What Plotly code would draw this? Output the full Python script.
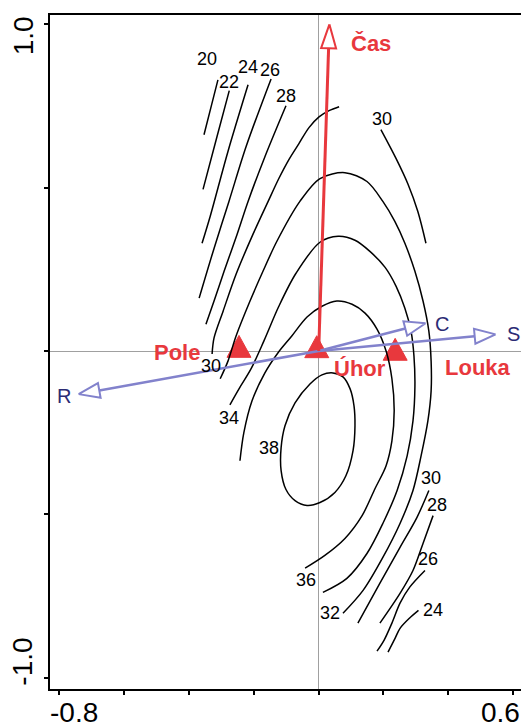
import math
import plotly.graph_objects as go

# ---------------- data ----------------
x_tick_vals = [-0.8, -0.6, -0.4, -0.2, 0.0, 0.2, 0.4, 0.6]
y_tick_vals = [-1.0, -0.5, 0.0, 0.5, 1.0]
x_tick_labels = ["-0.8", "", "", "", "", "", "", "0.6"]
y_tick_labels = ["-1.0", "", "", "", "1.0"]

# contour polylines (axis-1, axis-2 units)
c20_x = [-0.311, -0.332, -0.354]
c20_y = [0.830, 0.748, 0.662]
c22_x = [-0.276, -0.314, -0.357]
c22_y = [0.797, 0.656, 0.495]
c24_x = [-0.218, -0.280, -0.335, -0.360]
c24_y = [0.815, 0.611, 0.412, 0.330]
c26_x = [-0.147, -0.224, -0.277, -0.323, -0.369]
c26_y = [0.833, 0.626, 0.458, 0.314, 0.162]
c28_x = [-0.101, -0.166, -0.218, -0.252, -0.292, -0.323, -0.348]
c28_y = [0.751, 0.595, 0.458, 0.357, 0.244, 0.153, 0.082]
c30a_x = [0.063, 0.032, 0.001, -0.030, -0.061, -0.092, -0.123, -0.156, -0.203, -0.255, -0.295, -0.323, -0.329]
c30a_y = [0.748, 0.736, 0.717, 0.684, 0.635, 0.586, 0.528, 0.458, 0.357, 0.235, 0.122, 0.040, -0.009]
c30b_x = [0.192, 0.239, 0.276, 0.306, 0.331]
c30b_y = [0.678, 0.589, 0.510, 0.427, 0.330]
c30c_x = [0.340, 0.303, 0.251, 0.189, 0.121]
c30c_y = [-0.427, -0.510, -0.601, -0.711, -0.833]
c32_x = [-0.304, -0.280, -0.255, -0.212, -0.172, -0.129, -0.058, 0.004, 0.081, 0.149, 0.198, 0.235, 0.266,
         0.297, 0.322, 0.340, 0.347, 0.347, 0.337, 0.316, 0.291, 0.251, 0.198, 0.137, 0.075]
c32_y = [-0.085, -0.031, 0.046, 0.153, 0.244, 0.336, 0.458, 0.528, 0.546, 0.519, 0.458, 0.397, 0.330,
         0.244, 0.153, 0.061, -0.031, -0.122, -0.214, -0.321, -0.427, -0.528, -0.632, -0.733, -0.803]
c34_x = [-0.274, -0.246, -0.209, -0.169, -0.123, -0.070, 0.004, 0.060, 0.112, 0.158, 0.205, 0.239, 0.266,
         0.285, 0.294, 0.297, 0.291, 0.273, 0.242, 0.198, 0.149, 0.087, 0.013]
c34_y = [-0.165, -0.116, -0.055, 0.031, 0.137, 0.238, 0.333, 0.351, 0.339, 0.305, 0.256, 0.198, 0.131,
         0.061, -0.015, -0.107, -0.214, -0.321, -0.427, -0.528, -0.620, -0.696, -0.739]
c36_x = [-0.243, -0.231, -0.206, -0.166, -0.126, -0.083, -0.036, 0.010, 0.056, 0.103, 0.143, 0.180, 0.208,
         0.226, 0.233, 0.226, 0.208, 0.174, 0.134, 0.081, 0.019, -0.042]
c36_y = [-0.336, -0.250, -0.153, -0.067, -0.006, 0.046, 0.104, 0.137, 0.153, 0.143, 0.116, 0.067, 0.000,
         -0.085, -0.183, -0.275, -0.351, -0.421, -0.504, -0.574, -0.626, -0.665]
c38_x = [0.044, 0.075, 0.097, 0.109, 0.112, 0.106, 0.084, 0.050, 0.004, -0.036, -0.073, -0.101, -0.116,
         -0.116, -0.104, -0.073, -0.027, 0.010, 0.044]
c38_y = [-0.067, -0.079, -0.116, -0.168, -0.229, -0.305, -0.382, -0.433, -0.464, -0.473, -0.458, -0.424,
         -0.366, -0.296, -0.229, -0.159, -0.101, -0.073, -0.067]
c28b_x = [0.353, 0.322, 0.291, 0.251, 0.189]
c28b_y = [-0.504, -0.589, -0.672, -0.742, -0.833]
c26b_x = [0.328, 0.281, 0.251, 0.226, 0.202, 0.180]
c26b_y = [-0.672, -0.723, -0.772, -0.833, -0.885, -0.919]
c24b_x = [0.308, 0.280, 0.251, 0.236, 0.214]
c24b_y = [-0.794, -0.818, -0.849, -0.879, -0.922]

contour_segments = [
    (c20_x, c20_y), (c22_x, c22_y), (c24_x, c24_y), (c26_x, c26_y), (c28_x, c28_y),
    (c30a_x, c30a_y), (c30b_x, c30b_y), (c30c_x, c30c_y), (c32_x, c32_y), (c34_x, c34_y),
    (c36_x, c36_y), (c38_x, c38_y), (c28b_x, c28b_y), (c26b_x, c26b_y), (c24b_x, c24b_y),
]

# contour labels
label_levels = ["20", "22", "24", "26", "28", "30", "30", "34", "38", "36", "32", "30", "28", "26", "24"]
label_x = [-0.344, -0.277, -0.218, -0.150, -0.101, 0.195, -0.332, -0.277, -0.153, -0.038, 0.034, 0.347, 0.364, 0.336, 0.352]
label_y = [0.893, 0.824, 0.870, 0.861, 0.781, 0.710, -0.046, -0.205, -0.296, -0.702, -0.803, -0.388, -0.470, -0.638, -0.794]

# sites (nominal variable centroids)
site_names = ["Pole", "Úhor", "Louka"]
site_x = [-0.246, -0.006, 0.236]
site_y = [0.003, 0.002, -0.006]
site_label_x = [-0.437, 0.127, 0.491]
site_label_y = [-0.006, -0.055, -0.049]

# supplementary variable (red)
supp_names = ["Čas"]
supp_x = [0.033]
supp_y = [1.000]
supp_label_x = [0.160]
supp_label_y = [0.940]

# explanatory variables (blue arrows)
env_names = ["C", "S", "R"]
env_x = [0.330, 0.546, -0.741]
env_y = [0.085, 0.051, -0.132]
env_label_x = [0.380, 0.600, -0.785]
env_label_y = [0.083, 0.052, -0.137]

# ---------------- layout geometry ----------------
# the page body keeps the browser's default 8px margin, so the figure is sized
# to sit inside the 529x727 window with the plot frame where the original has it
PAGE_OFF = 8
W, H = 529 - PAGE_OFF, 727 - PAGE_OFF
ML, MR, MT, MB = 50 - PAGE_OFF, 8, 13 - PAGE_OFF, 38
X_RANGE = [-0.8293, 0.6244]
Y_RANGE = [-1.0348, 1.0287]
SX = (W - ML - MR) / (X_RANGE[1] - X_RANGE[0])
SY = (H - MT - MB) / (Y_RANGE[1] - Y_RANGE[0])

RED = "#e8383d"
BLUE = "#8282cc"
NAVY = "#2b2b74"
FONT = "Liberation Sans, Arial, sans-serif"

fig = go.Figure()


def arrow_head(x0, y0, x1, y1, length, half_w):
    dx, dy = (x1 - x0) * SX, (y1 - y0) * SY
    n = math.hypot(dx, dy)
    ux, uy = dx / n, dy / n
    bx, by = x1 - length * ux / SX, y1 - length * uy / SY
    px, py = -uy, ux
    cx1, cy1 = bx + half_w * px / SX, by + half_w * py / SY
    cx2, cy2 = bx - half_w * px / SX, by - half_w * py / SY
    return (bx, by), [x1, cx1, cx2, x1], [y1, cy1, cy2, y1]


# site triangles
TRI_W, TRI_H = 24, 22
for sx_, sy_ in zip(site_x, site_y):
    hw = TRI_W / 2 / SX
    top = sy_ + (2 * TRI_H / 3) / SY
    bot = sy_ - (TRI_H / 3) / SY
    fig.add_trace(go.Scatter(x=[sx_, sx_ + hw, sx_ - hw, sx_], y=[top, bot, bot, top],
                             mode="lines", fill="toself", fillcolor=RED,
                             line=dict(color=RED, width=1), hoverinfo="skip", showlegend=False))

# contours
for cx, cy in contour_segments:
    fig.add_trace(go.Scatter(x=cx, y=cy, mode="lines",
                             line=dict(color="black", width=1.5, shape="spline", smoothing=0.9),
                             hoverinfo="skip", showlegend=False))

# blue arrows
for ex, ey in zip(env_x, env_y):
    (bx, by), hx, hy = arrow_head(0, 0, ex, ey, 21, 7.5)
    fig.add_trace(go.Scatter(x=[0, bx], y=[0, by], mode="lines",
                             line=dict(color=BLUE, width=2.5), hoverinfo="skip", showlegend=False))
    fig.add_trace(go.Scatter(x=hx, y=hy, mode="lines", fill="toself", fillcolor="white",
                             line=dict(color=BLUE, width=2), hoverinfo="skip", showlegend=False))

# red arrow
for ex, ey in zip(supp_x, supp_y):
    (bx, by), hx, hy = arrow_head(0, 0, ex, ey, 24, 7.5)
    fig.add_trace(go.Scatter(x=[0, bx], y=[0, by], mode="lines",
                             line=dict(color=RED, width=3), hoverinfo="skip", showlegend=False))
    fig.add_trace(go.Scatter(x=hx, y=hy, mode="lines", fill="toself", fillcolor="white",
                             line=dict(color=RED, width=2), hoverinfo="skip", showlegend=False))

annotations = []
for t, x, y in zip(label_levels, label_x, label_y):
    annotations.append(dict(x=x, y=y, text=t, showarrow=False, xanchor="center", yanchor="middle",
                            font=dict(family=FONT, size=18, color="black")))
for t, x, y in zip(site_names, site_label_x, site_label_y):
    annotations.append(dict(x=x, y=y, text="<b>%s</b>" % t, showarrow=False, xanchor="center",
                            yanchor="middle", font=dict(family=FONT, size=22, color=RED)))
for t, x, y in zip(supp_names, supp_label_x, supp_label_y):
    annotations.append(dict(x=x, y=y, text="<b>%s</b>" % t, showarrow=False, xanchor="center",
                            yanchor="middle", font=dict(family=FONT, size=22, color=RED)))
for t, x, y in zip(env_names, env_label_x, env_label_y):
    annotations.append(dict(x=x, y=y, text=t, showarrow=False, xanchor="center", yanchor="middle",
                            font=dict(family=FONT, size=20, color=NAVY)))

# axis tick labels (placed like the original, pulled inside the frame ends)
x_label_shift = {"-0.8": 15, "0.6": -13}
for v, t in zip(x_tick_vals, x_tick_labels):
    if t:
        annotations.append(dict(x=v, y=0, xref="x", yref="paper", text=t, showarrow=False,
                                xanchor="center", yanchor="middle", xshift=x_label_shift[t], yshift=-23,
                                font=dict(family=FONT, size=28, color="black")))
y_label_shift = {"1.0": -12, "-1.0": 16}
for v, t in zip(y_tick_vals, y_tick_labels):
    if t:
        annotations.append(dict(x=0, y=v, xref="paper", yref="y", text=t, showarrow=False,
                                textangle=-90, xanchor="center", yanchor="middle", xshift=-27,
                                yshift=y_label_shift[t], font=dict(family=FONT, size=28, color="black")))

axis_common = dict(showgrid=False, zeroline=True, zerolinecolor="#a0a0a0", zerolinewidth=1,
                   showline=True, linecolor="black", linewidth=1.5, mirror=True,
                   ticks="outside", ticklen=4, tickwidth=1.5, tickcolor="black",
                   showticklabels=False, fixedrange=True)

fig.update_layout(
    width=W, height=H, autosize=False,
    margin=dict(l=ML, r=MR, t=MT, b=MB),
    paper_bgcolor="white", plot_bgcolor="white",
    xaxis=dict(range=X_RANGE, tickvals=x_tick_vals, **axis_common),
    yaxis=dict(range=Y_RANGE, tickvals=y_tick_vals, **axis_common),
    annotations=annotations,
    showlegend=False,
)

fig.write_html("out.html")
